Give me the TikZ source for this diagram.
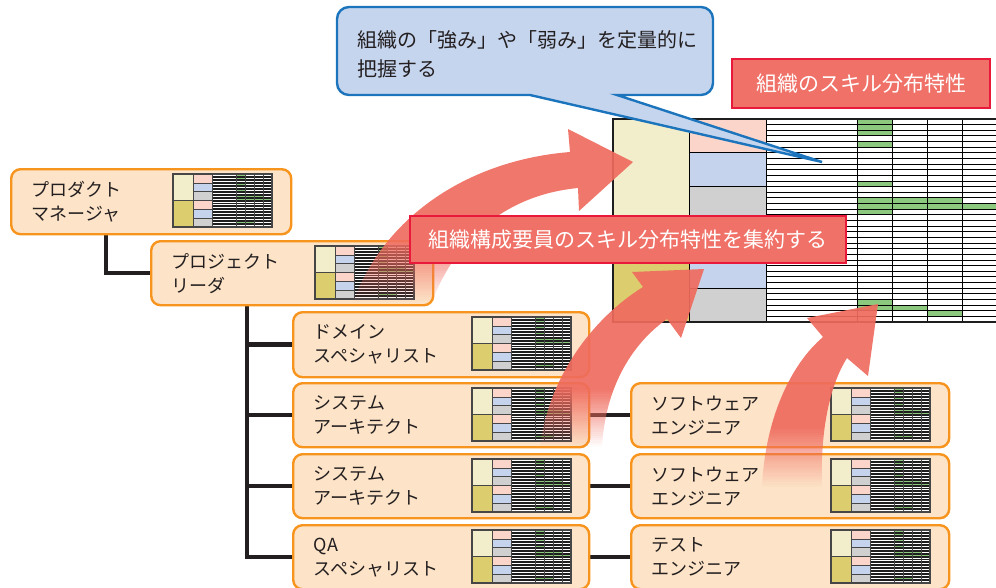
\documentclass[tikz,border=0pt]{standalone}
\usepackage{fontspec}
\setmainfont{Noto Sans CJK JP}
\usetikzlibrary{calc}
\definecolor{txt}{RGB}{35,31,32}
\definecolor{nodefill}{RGB}{253,227,199}
\definecolor{nodeorange}{RGB}{247,148,29}
\definecolor{ylight}{RGB}{242,237,203}
\definecolor{ydark}{RGB}{220,205,110}
\definecolor{cpink}{RGB}{251,213,201}
\definecolor{cblue}{RGB}{197,212,236}
\definecolor{cgray}{RGB}{208,208,208}
\definecolor{tgreen}{RGB}{140,200,125}
\definecolor{tabblack}{RGB}{30,30,30}
\definecolor{tabline}{RGB}{70,70,70}
\definecolor{callfill}{RGB}{198,213,238}
\definecolor{callline}{RGB}{28,117,188}
\definecolor{labfill}{RGB}{240,113,103}
\definecolor{labline}{RGB}{232,25,58}
\definecolor{arrowred}{RGB}{239,107,94}
\pgfdeclarelayer{back}
\pgfsetlayers{back,main}
\newcommand{\mtab}[2]{%
\begin{scope}[shift={(#1,#2)}]
 \fill[ylight] (0,0) rectangle (20,26.5);
 \fill[ydark] (0,26.5) rectangle (20,53);
 \foreach \i/\c in {0/cpink,1/cblue,2/cgray,3/cpink,4/cblue,5/cgray}
   \fill[\c] (20,\i*8.833) rectangle (39,\i*8.833+8.833);
 \fill[tabblack] (39,0) rectangle (99,53);
 \foreach \r in {0,...,17} \draw[white, line width=0.7pt] (39,\r*2.944+1.47) -- (99,\r*2.944+1.47);
 \foreach \r/\a/\b in {0/63/72,1/63/72,3/63/72,5/63/72,7/63/90,8/63/99,16/63/81}
   \draw[tgreen, line width=0.7pt] (\a,\r*2.944+1.47) -- (\b,\r*2.944+1.47);
 \foreach \xx in {63,72,81,90} \draw[tabline, line width=0.6pt] (\xx,0) -- (\xx,53);
 \draw[tabline, line width=0.6pt] (20,0)--(20,53) (39,0)--(39,53) (0,26.5)--(20,26.5);
 \foreach \i in {1,...,5} \draw[tabline, line width=0.4pt] (20,\i*8.833) -- (39,\i*8.833);
 \draw[tabline, line width=0.8pt] (0,0) rectangle (99,53);
\end{scope}}
% faded arrow: #1 path, #2 xmin, #3 xmax, #4 ymin, #5 fade start y, #6 end y
\newcommand{\fadearrow}[6]{%
\begin{scope}
 \clip #1;
 \fill[arrowred, fill opacity=0.92] (#2,#4) rectangle (#3,#5);
 \foreach \k in {0,...,25} {%
   \pgfmathsetmacro\op{0.92*(1-(\k+0.5)/26)}%
   \pgfmathsetmacro\ya{#5+\k*(#6-#5)/26}%
   \pgfmathsetmacro\yb{#5+(\k+1)*(#6-#5)/26}%
   \fill[arrowred, fill opacity=\op] (#2,\ya) rectangle (#3,\yb);}
\end{scope}}
\begin{document}
\begin{tikzpicture}[x=0.75pt,y=-0.75pt,
  orgbox/.style={draw=nodeorange, fill=nodefill, line width=1.8pt, rounded corners=7pt,
     anchor=north west, inner xsep=15.5pt, inner ysep=0pt, align=left,
     font=\fontsize{13.5pt}{18pt}\selectfont, text=txt},
  conn/.style={draw=txt, line width=3.4pt},
  redlabel/.style={draw=labline, fill=labfill, line width=1.5pt, text=white,
     font=\fontsize{15.75pt}{18pt}\selectfont, inner sep=0pt},
  gline/.style={draw=black, line width=0.7pt}]
\useasboundingbox (0,0) rectangle (996,587);

% big table
\fill[ylight] (613,119) rectangle (689,220.5);
\fill[ydark] (613,220.5) rectangle (689,322);
\foreach \i/\c in {0/cpink,1/cblue,2/cgray,3/cpink,4/cblue,5/cgray}
  \fill[\c] (689,119+\i*33.83) rectangle (766,119+\i*33.83+33.83);
\fill[white] (766,119) rectangle (1000,322);
\foreach \r/\a/\b in {0/857/892,1/857/892,2/857/892,4/857/892,11/857/892,14/857/962,15/857/1000,16/857/892,32/857/892,33/857/927,34/927/962}
  \fill[tgreen] (\a,119+\r*5.639) rectangle (\b,119+\r*5.639+5.639);
\foreach \r in {1,...,35} \draw[gline] (766,119+\r*5.639) -- (1000,119+\r*5.639);
\foreach \xx in {857,892,927,962} \draw[gline] (\xx,119) -- (\xx,322);
\foreach \i in {1,...,5} \draw[gline] (689,119+\i*33.83) -- (766,119+\i*33.83);
\draw[gline] (689,119) -- (689,322) (766,119) -- (766,322);
\draw[draw=tabblack, line width=1.8pt] (613,119) rectangle (1000,322);

% callout
\draw[fill=callfill, draw=callline, line width=1.8pt]
  (617,95) [rounded corners=9pt] -- (713,95) -- (713,7) -- (337,7) -- (337,95) -- (400,95)
  [sharp corners] -- (530,95) -- (822,162) -- cycle;
\node[anchor=west, align=left, font=\fontsize{15pt}{21.75pt}\selectfont, text=txt, inner sep=0pt]
  (ct) at (357,54.5) {組織の「強み」や「弱み」を定量的に\\把握する};

% label A
\node[redlabel, minimum width=193.5pt, minimum height=36.75pt] (la) at (861,83.5) {組織のスキル分布特性};

% nodes
\node[orgbox, text width=179pt, minimum height=48.75pt] (pm) at (10,168) {プロダクト\\マネージャ};
\node[orgbox, text width=180.5pt, minimum height=48pt] (pl) at (150,240) {プロジェクト\\リーダ};
\node[orgbox, text width=191pt, minimum height=48.75pt] (dom) at (292,311) {ドメイン\\スペシャリスト};
\node[orgbox, text width=191pt, minimum height=48pt] (sa1) at (292,382) {システム\\アーキテクト};
\node[orgbox, text width=191pt, minimum height=48pt] (sa2) at (292,453) {システム\\アーキテクト};
\node[orgbox, text width=191pt, minimum height=48pt] (qa) at (292,524) {QA\\スペシャリスト};
\node[orgbox, text width=207.5pt, minimum height=48pt] (sw1) at (630,382) {ソフトウェア\\エンジニア};
\node[orgbox, text width=207.5pt, minimum height=48pt] (sw2) at (630,453) {ソフトウェア\\エンジニア};
\node[orgbox, text width=207.5pt, minimum height=48pt] (te) at (630,524) {テスト\\エンジニア};

\begin{pgfonlayer}{back}
\draw[conn] ($(pm.south west)+(96,0)$) |- (pl.west);
\draw[conn] ($(pl.south west)+(97,0)$) |- (dom.west);
\draw[conn] ($(pl.south west)+(97,0)$) |- (sa1.west);
\draw[conn] ($(pl.south west)+(97,0)$) |- (sa2.west);
\draw[conn] ($(pl.south west)+(97,0)$) |- (qa.west);
\draw[conn] (sa1.east) -- (sw1.west);
\draw[conn] (sa2.east) -- (sw2.west);
\draw[conn] (qa.east) -- (te.west);
\end{pgfonlayer}

% mini tables
\mtab{173}{174}
\mtab{315}{246}
\foreach \yy in {317,388,459,530} {\mtab{472}{\yy}}
\foreach \yy in {388,459,530} {\mtab{831}{\yy}}

% arrows
\fadearrow{(353,302) .. controls (385,215) and (470,160) .. (570,152) -- (568,129) -- (633,162)
  -- (579,211) -- (578,188) .. controls (505,195) and (455,240) .. (432,302) -- cycle}{345}{640}{125}{240}{302}
\fadearrow{(540,447) .. controls (548,380) and (590,320) .. (643,287) -- (632,272) -- (704,269)
  -- (681,338) -- (667,319) .. controls (630,345) and (605,390) .. (602,447) -- cycle}{530}{710}{265}{390}{447}
\fadearrow{(762,487) .. controls (765,420) and (790,365) .. (823,337) -- (807,318) -- (878,304)
  -- (868,376) -- (847,358) .. controls (830,385) and (820,430) .. (822,487) -- cycle}{755}{885}{300}{428}{487}

% label B
\node[redlabel, minimum width=327pt, minimum height=35.25pt] (lb) at (628,239.5) {組織構成要員のスキル分布特性を集約する};
\end{tikzpicture}
\end{document}
